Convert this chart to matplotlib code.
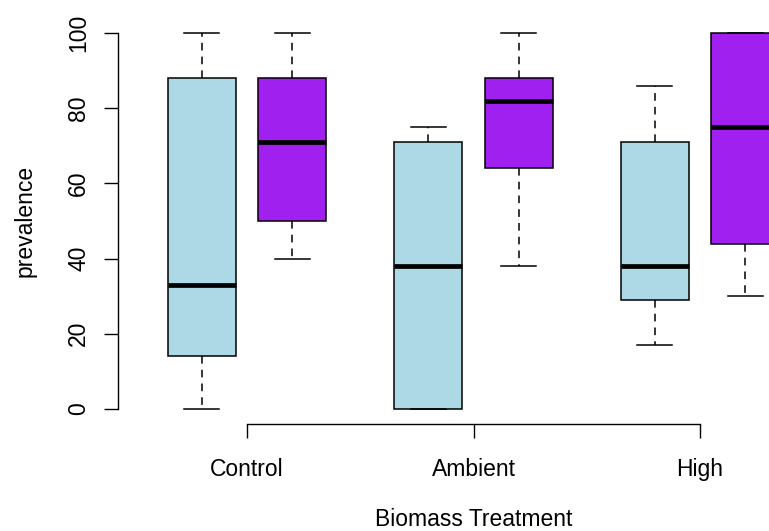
import matplotlib
matplotlib.use('Agg')
import matplotlib.pyplot as plt

# Data (prevalence, %)
groups = ['Control', 'Ambient', 'High']
group_pos = [1, 2, 3]

# lower whisker, q1, median, q3, upper whisker
blue_low = [0, 0, 17]
blue_q1 = [14, 0, 29]
blue_med = [33, 38, 38]
blue_q3 = [88, 71, 71]
blue_high = [100, 75, 86]

purple_low = [40, 38, 30]
purple_q1 = [50, 64, 44]
purple_med = [71, 82, 75]
purple_q3 = [88, 88, 100]
purple_high = [100, 100, 100]

yticks = [0, 20, 40, 60, 80, 100]

W, H = 769, 531
fig = plt.figure(figsize=(W / 100, H / 100), dpi=100)
plt.rcParams['font.family'] = 'Liberation Sans'

# axes placed in pixel terms so the R layout lines up
ax = fig.add_axes([118 / W, (H - 424) / H, 1 - 118 / W, (424 - 18) / H])
px_per_unit = 226.5
ax.set_xlim(1 - (247 - 118) / px_per_unit, 3 + (769 - 700) / px_per_unit)
ax.set_ylim(-4, 104)


def make_stats(low, q1, med, q3, high):
    return [dict(whislo=a, q1=b, med=c, q3=d, whishi=e, fliers=[])
            for a, b, c, d, e in zip(low, q1, med, q3, high)]


box_w = 0.30
cap_w = 0.155
for stats, off, col in [
    (make_stats(blue_low, blue_q1, blue_med, blue_q3, blue_high), -0.2, '#ADD8E6'),
    (make_stats(purple_low, purple_q1, purple_med, purple_q3, purple_high), 0.2, '#A020F0'),
]:
    ax.bxp(stats, positions=[p + off for p in group_pos], widths=box_w,
           capwidths=cap_w, patch_artist=True, showfliers=False,
           boxprops=dict(facecolor=col, edgecolor='black', linewidth=1.1),
           medianprops=dict(color='black', linewidth=3.4, solid_capstyle='butt'),
           whiskerprops=dict(color='black', linewidth=1.1, linestyle=(0, (5, 4))),
           capprops=dict(color='black', linewidth=1.1),
           manage_ticks=False)

for s in ['top', 'right']:
    ax.spines[s].set_visible(False)
ax.spines['left'].set_bounds(0, 100)
ax.spines['bottom'].set_bounds(1, 3)
for s in ['left', 'bottom']:
    ax.spines[s].set_linewidth(1.0)

ax.set_yticks(yticks)
ax.set_yticklabels([str(v) for v in yticks], rotation=90, va='center')
ax.set_xticks(group_pos)
ax.set_xticklabels(groups)
ax.tick_params(axis='both', direction='out', length=10, width=1.0,
               labelsize=16.5)
ax.tick_params(axis='y', pad=10)
ax.tick_params(axis='x', pad=14.5)

fig.text(25 / W, 1 - 221 / H, 'prevalence', rotation=90, ha='center',
         va='center', fontsize=16.5)
fig.text(474 / W, 1 - 520 / H, 'Biomass Treatment', ha='center',
         va='center', fontsize=16.5)

fig.savefig('out.png', dpi=100)
